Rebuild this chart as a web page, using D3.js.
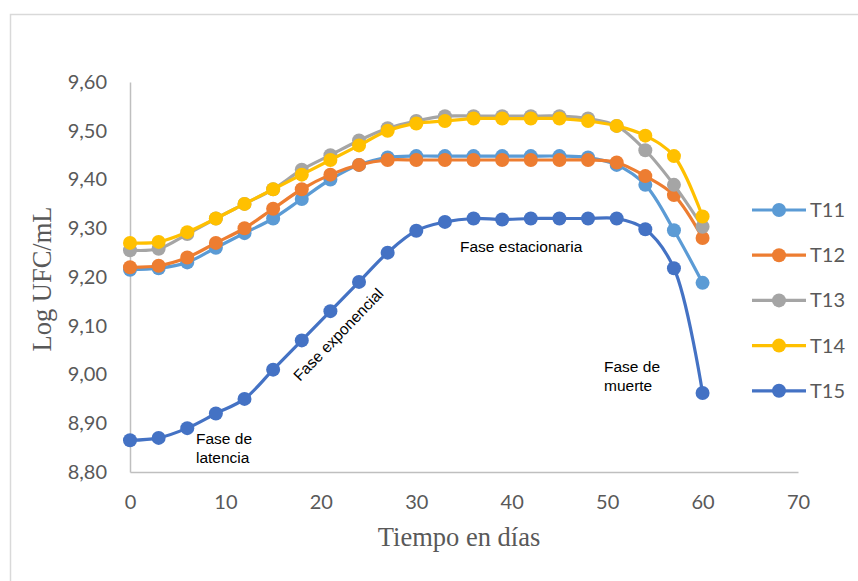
<!DOCTYPE html>
<html>
<head>
<meta charset="utf-8">
<script src="https://cdn.jsdelivr.net/npm/d3@7/dist/d3.min.js"></script>
<style>
  html, body { margin: 0; padding: 0; background: #fff; }
  svg { display: block; }
</style>
</head>
<body>
<svg id="chart" width="858" height="581"></svg>
<script>
// Sampling days
const days = [0, 3, 6, 9, 12, 15, 18, 21, 24, 27, 30, 33, 36, 39, 42, 45, 48, 51, 54, 57, 60];

// Log UFC/mL per treatment
const t11 = [9.215, 9.218, 9.230, 9.260, 9.290, 9.320, 9.360, 9.400, 9.430, 9.445, 9.448, 9.448, 9.448, 9.448, 9.448, 9.448, 9.445, 9.430, 9.389, 9.296, 9.188];
const t12 = [9.220, 9.223, 9.240, 9.270, 9.300, 9.340, 9.380, 9.410, 9.430, 9.440, 9.440, 9.440, 9.440, 9.440, 9.440, 9.440, 9.440, 9.435, 9.407, 9.368, 9.280];
const t13 = [9.255, 9.258, 9.288, 9.320, 9.350, 9.380, 9.420, 9.450, 9.480, 9.505, 9.520, 9.530, 9.530, 9.530, 9.530, 9.530, 9.525, 9.510, 9.460, 9.389, 9.303];
const t14 = [9.270, 9.272, 9.292, 9.320, 9.350, 9.380, 9.410, 9.440, 9.470, 9.500, 9.515, 9.520, 9.525, 9.525, 9.525, 9.525, 9.520, 9.510, 9.490, 9.448, 9.324];
const t15 = [8.865, 8.870, 8.890, 8.920, 8.950, 9.010, 9.070, 9.130, 9.190, 9.250, 9.295, 9.313, 9.320, 9.318, 9.320, 9.320, 9.320, 9.320, 9.298, 9.218, 8.962];

const seriesNames = ["T11", "T12", "T13", "T14", "T15"];
const seriesValues = [t11, t12, t13, t14, t15];
const seriesColors = ["#5B9BD5", "#ED7D31", "#A5A5A5", "#FFC000", "#4472C4"];

const xTicks = [0, 10, 20, 30, 40, 50, 60, 70];
const yTicks = [8.8, 8.9, 9.0, 9.1, 9.2, 9.3, 9.4, 9.5, 9.6];

const svg = d3.select("#chart");

// Outer chart frame
svg.append("rect")
  .attr("x", 10.5).attr("y", 14.5)
  .attr("width", 860).attr("height", 600)
  .attr("fill", "none").attr("stroke", "#D9D9D9").attr("stroke-width", 1.5);

const x = d3.scaleLinear().domain([0, 70]).range([130, 798]);
const y = d3.scaleLinear().domain([8.8, 9.6]).range([472, 82]);

const tickFont = "Lato, 'Open Sans', sans-serif";
const tickSize = 20;
const fmt = v => d3.format(".2f")(v).replace(".", ",");

// Y axis
const yAxis = svg.append("g").attr("transform", "translate(130,0)")
  .call(d3.axisLeft(y).tickValues(yTicks).tickSize(0).tickPadding(23).tickFormat(fmt));
yAxis.select(".domain").attr("stroke", "#BFBFBF").attr("stroke-width", 1.5);
yAxis.selectAll("text").attr("font-family", tickFont).attr("font-size", tickSize).attr("fill", "#595959");

// X axis
const xAxis = svg.append("g").attr("transform", "translate(0,472)")
  .call(d3.axisBottom(x).tickValues(xTicks).tickSize(0).tickPadding(23).tickFormat(d3.format("d")));
xAxis.select(".domain").attr("stroke", "#BFBFBF").attr("stroke-width", 1.5);
xAxis.selectAll("text").attr("font-family", tickFont).attr("font-size", tickSize).attr("fill", "#595959");

// Axis titles
svg.append("text")
  .attr("transform", "translate(51,279) rotate(-90)")
  .attr("text-anchor", "middle")
  .attr("font-family", "'Liberation Serif', serif").attr("font-size", 26.5).attr("fill", "#595959")
  .text("Log UFC/mL");
svg.append("text")
  .attr("x", 459).attr("y", 546)
  .attr("text-anchor", "middle")
  .attr("font-family", "'Liberation Serif', serif").attr("font-size", 26.5).attr("fill", "#595959")
  .text("Tiempo en días");

// Series lines and markers
const line = d3.line()
  .x((d, i) => x(days[i]))
  .y(d => y(d))
  .curve(d3.curveCatmullRom.alpha(0.5));

seriesValues.forEach((vals, si) => {
  const g = svg.append("g");
  g.append("path")
    .attr("d", line(vals))
    .attr("fill", "none")
    .attr("stroke", seriesColors[si])
    .attr("stroke-width", 3.2)
    .attr("stroke-linejoin", "round");
  g.selectAll("circle")
    .data(vals)
    .join("circle")
    .attr("cx", (d, i) => x(days[i]))
    .attr("cy", d => y(d))
    .attr("r", 7)
    .attr("fill", seriesColors[si]);
});

// Growth phase annotations
const noteFont = "'Liberation Sans', Arial, sans-serif";
const noteSize = 15.5;
const note = (lines, px, py) => {
  const t = svg.append("text")
    .attr("font-family", noteFont).attr("font-size", noteSize).attr("fill", "#000");
  lines.forEach((s, i) => t.append("tspan").attr("x", px).attr("y", py + i * 18.5).text(s));
};
note(["Fase de", "latencia"], 196, 444);
note(["Fase estacionaria"], 460, 252);
note(["Fase de", "muerte"], 604, 372);
svg.append("text")
  .attr("transform", "translate(300,382) rotate(-46)")
  .attr("font-family", noteFont).attr("font-size", noteSize).attr("fill", "#000")
  .text("Fase exponencial");

// Legend
const legend = svg.append("g");
seriesNames.forEach((name, i) => {
  const ly = 210 + i * 45.2;
  legend.append("line")
    .attr("x1", 752).attr("x2", 806).attr("y1", ly).attr("y2", ly)
    .attr("stroke", seriesColors[i]).attr("stroke-width", 3.2);
  legend.append("circle")
    .attr("cx", 779).attr("cy", ly).attr("r", 7).attr("fill", seriesColors[i]);
  legend.append("text")
    .attr("x", 810).attr("y", ly).attr("dy", "0.35em")
    .attr("font-family", tickFont).attr("font-size", tickSize).attr("fill", "#595959")
    .text(name);
});
</script>
</body>
</html>
